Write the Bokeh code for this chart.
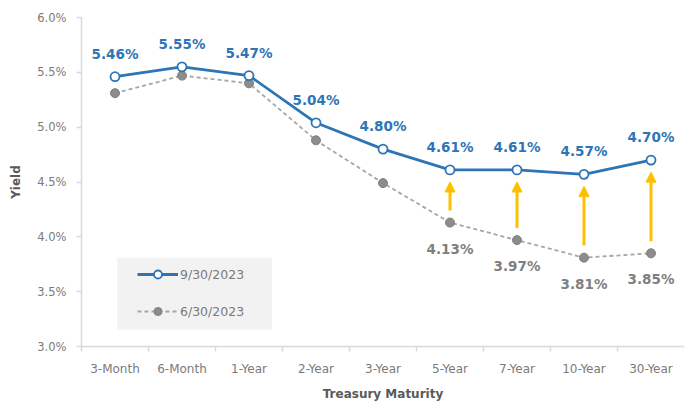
from bokeh.plotting import figure
from bokeh.models import (ColumnDataSource, Range1d, FixedTicker, PrintfTickFormatter,
                          Legend, LegendItem, Arrow, NormalHead, BoxAnnotation)
from bokeh.core.properties import value
from bokeh.embed import file_html
from bokeh.resources import INLINE

maturities = ["3-Month", "6-Month", "1-Year", "2-Year", "3-Year", "5-Year", "7-Year", "10-Year", "30-Year"]
yield_sep = [5.46, 5.55, 5.47, 5.04, 4.80, 4.61, 4.61, 4.57, 4.70]
yield_jun = [5.31, 5.47, 5.40, 4.88, 4.49, 4.13, 3.97, 3.81, 3.85]
arrow_maturities = ["5-Year", "7-Year", "10-Year", "30-Year"]
y_ticks = [3.0, 3.5, 4.0, 4.5, 5.0, 5.5, 6.0]
series_names = ["9/30/2023", "6/30/2023"]

BLUE = "#2E75B6"
GRAY_LINE = "#A6A6A6"
GRAY_MARK = "#8C8C8C"
GRAY_TXT = "#7F7F7F"
AXIS_TXT = "#595959"
TICK_TXT = "#7A7A7A"
GOLD = "#FFC000"
FONT = "DejaVu Sans"

xs = [i + 0.5 for i in range(len(maturities))]

sep_src = ColumnDataSource(dict(x=xs, y=yield_sep, lab=[f"{v:.2f}%" for v in yield_sep]))
jun_src = ColumnDataSource(dict(x=xs, y=yield_jun))
idx = [maturities.index(m) for m in arrow_maturities]
arr_src = ColumnDataSource(dict(
    x=[xs[i] for i in idx],
    y0=[yield_jun[i] + 0.11 for i in idx],
    y1=[yield_sep[i] - 0.11 for i in idx],
    gy=[yield_jun[i] for i in idx],
    glab=[f"{yield_jun[i]:.2f}%" for i in idx],
))

p = figure(width=684, height=408, output_backend="svg", toolbar_location=None,
           x_range=Range1d(0, len(maturities)), y_range=Range1d(3.0, 6.0),
           min_border_left=81, min_border_right=0, min_border_top=17, min_border_bottom=62)
p.outline_line_color = None
p.background_fill_color = "white"
p.border_fill_color = "white"
p.grid.visible = False

# x axis
p.xaxis.ticker = FixedTicker(ticks=xs, minor_ticks=list(range(len(maturities) + 1)))
p.xaxis.major_label_overrides = {x: m for x, m in zip(xs, maturities)}
p.xaxis.major_tick_line_color = None
p.xaxis.minor_tick_line_color = "#D9D9D9"
p.xaxis.minor_tick_line_width = 1.5
p.xaxis.minor_tick_out = 5
p.xaxis.minor_tick_in = 0
p.xaxis.axis_line_color = "#D9D9D9"
p.xaxis.axis_line_width = 1.5
p.xaxis.major_label_text_font = FONT
p.xaxis.major_label_text_font_size = "12px"
p.xaxis.major_label_text_color = TICK_TXT
p.xaxis.major_label_standoff = 9
p.xaxis.axis_label = "Treasury Maturity"
p.xaxis.axis_label_text_font = FONT
p.xaxis.axis_label_text_font_style = "bold"
p.xaxis.axis_label_text_font_size = "12px"
p.xaxis.axis_label_text_color = AXIS_TXT
p.xaxis.axis_label_standoff = 8

# y axis
p.yaxis.ticker = FixedTicker(ticks=y_ticks)
p.yaxis.formatter = PrintfTickFormatter(format="%.1f%%")
p.yaxis.major_tick_line_color = "#D9D9D9"
p.yaxis.major_tick_line_width = 1.5
p.yaxis.major_tick_out = 5
p.yaxis.major_tick_in = 0
p.yaxis.minor_tick_line_color = None
p.yaxis.axis_line_color = "#D9D9D9"
p.yaxis.axis_line_width = 1.5
p.yaxis.major_label_text_font = FONT
p.yaxis.major_label_text_font_size = "11.5px"
p.yaxis.major_label_text_color = TICK_TXT
p.yaxis.major_label_standoff = 10
p.yaxis.axis_label = "Yield"
p.yaxis.axis_label_text_font = FONT
p.yaxis.axis_label_text_font_style = "bold"
p.yaxis.axis_label_text_font_size = "12px"
p.yaxis.axis_label_text_color = AXIS_TXT
p.yaxis.axis_label_standoff = 11

# legend background panel (layout only, data units)
p.add_layout(BoxAnnotation(left=0.535, right=2.845, bottom=3.155, top=3.81,
                           fill_color="#F2F2F2", fill_alpha=1.0, line_color=None,
                           level="underlay"))

# June series
jl = p.line("x", "y", source=jun_src, line_color=GRAY_LINE, line_width=1.8, line_dash="4 3")
jm = p.scatter("x", "y", source=jun_src, marker="circle", size=9, fill_color=GRAY_MARK,
               line_color="#7F7F7F", line_width=1)

# Sep series
sl = p.line("x", "y", source=sep_src, line_color=BLUE, line_width=2.8)
sm = p.scatter("x", "y", source=sep_src, marker="circle", size=9, fill_color="white",
               line_color=BLUE, line_width=1.8)

# arrows
p.add_layout(Arrow(source=arr_src, x_start="x", y_start="y0", x_end="x", y_end="y1",
                   line_color=GOLD, line_width=3,
                   end=NormalHead(size=10, fill_color=GOLD, line_color=GOLD)))

# labels
p.text("x", "y", text="lab", source=sep_src, y_offset=-23, text_align="center",
       text_baseline="middle", text_color=BLUE, text_font=value(FONT),
       text_font_style="bold", text_font_size="13.5px")
p.text("x", "gy", text="glab", source=arr_src, y_offset=26, text_align="center",
       text_baseline="middle", text_color=GRAY_TXT, text_font=value(FONT),
       text_font_style="bold", text_font_size="13.5px")

legend = Legend(items=[LegendItem(label=series_names[0], renderers=[sl, sm]),
                       LegendItem(label=series_names[1], renderers=[jl, jm])],
                location=(56, 25), background_fill_alpha=0, border_line_color=None,
                padding=0, spacing=17, glyph_width=41, glyph_height=20, label_height=20,
                label_standoff=2, margin=0,
                label_text_font=FONT, label_text_font_size="12.5px", label_text_color=TICK_TXT)
p.add_layout(legend)

open("out.html", "w").write(file_html(p, INLINE))
